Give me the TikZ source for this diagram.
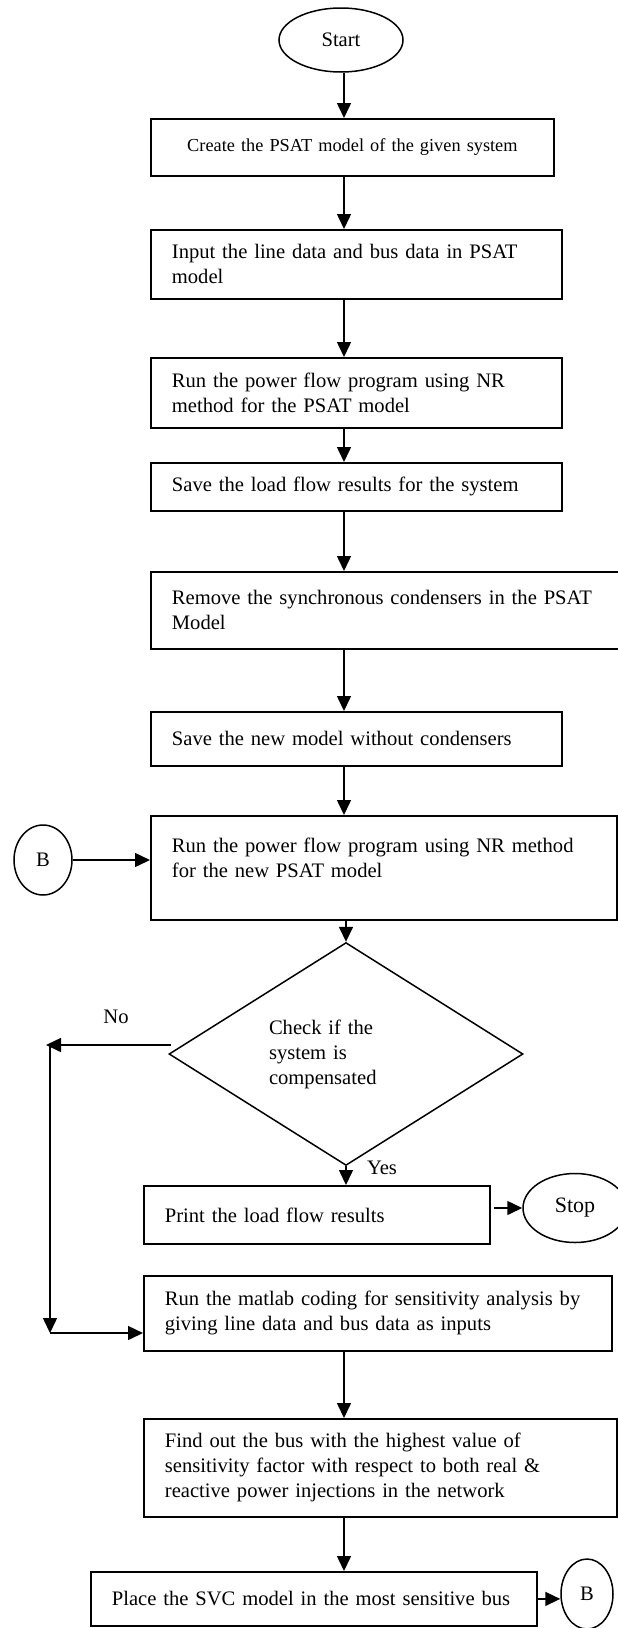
\documentclass[tikz,border=0pt]{standalone}
\usepackage{fontspec}
\setmainfont{Liberation Serif}
\usetikzlibrary{arrows.meta}
\usetikzlibrary{shapes.geometric}

\begin{document}
\begin{tikzpicture}[x=0.5pt, y=-0.5pt,
        font=\fontsize{10.3}{12.5}\selectfont,
        box/.style={draw, line width=0.9pt, anchor=north west, inner xsep=10.5pt, inner ysep=0pt, align=left},
        oval/.style={draw, ellipse, line width=0.75pt, inner sep=0pt},
        arr/.style={-{Triangle[width=7pt,length=7.5pt]}, line width=0.75pt}]

        \useasboundingbox (0,0) rectangle (617,1628);

        \coordinate (spine) at (344,0);
        \coordinate (loopA) at (50,1045);
        \coordinate (loopB) at (50,1333);

        % Main column
        \node[oval, minimum width=62pt, minimum height=32pt] (start) at (341,40) {Start};
        \node[box, align=center, text width=180.5pt, minimum height=28.5pt, font=\fontsize{9.15}{11}\selectfont] (create) at (150,118) {Create the PSAT model of the given system};
        \node[box, text width=184.5pt, minimum height=34.5pt] (input) at (150,229) {Input the line data and bus data in PSAT\\model};
        \node[box, text width=184.5pt, minimum height=35pt] (runnr) at (150,357) {Run the power flow program using NR\\method for the PSAT model};
        \node[box, text width=184.5pt, minimum height=24pt] (saveres) at (150,462) {Save the load flow results for the system};
        \node[box, text width=214pt, minimum height=38.5pt] (remove) at (150,571) {\mbox{Remove the synchronous condensers in the PSAT}\\Model};
        \node[box, text width=184.5pt, minimum height=27pt] (savenew) at (150,711) {Save the new model without condensers};
        \node[box, text width=212pt, minimum height=52pt] (runnew) at (150,815) {Run the power flow program using NR method\\for the new PSAT model\\[-2pt]\mbox{}};
        \node[oval, minimum width=29pt, minimum height=35pt] (bin) at (43,860) {B};

        % Decision
        \node[draw, diamond, line width=0.75pt, inner sep=0pt, minimum width=177pt, minimum height=89pt, text width=77pt, align=left] (check) at (346,1054) {Check if the\\system is\\compensated};
        \node (no) at (116,1017) {No};
        \node (yes) at (382,1168) {Yes};

        \node[box, text width=152pt, minimum height=29pt] (print) at (143,1185) {Print the load flow results};
        \node[oval, minimum width=52pt, minimum height=34.5pt, font=\fontsize{11}{13}\selectfont] (stop) at (575,1208) {Stop};
        \node[box, text width=213pt, minimum height=37.5pt] (sens) at (143,1275) {\mbox{Run the matlab coding for sensitivity analysis by}\\giving line data and bus data as inputs};
        \node[box, text width=215.5pt, minimum height=49pt] (find) at (143,1418) {Find out the bus with the highest value of\\\mbox{sensitivity factor with respect to both real \&}\\reactive power injections in the network};
        \node[box, text width=202pt, minimum height=27pt] (place) at (90,1571) {\mbox{Place the SVC model in the most sensitive bus}};
        \node[oval, minimum width=26pt, minimum height=35pt] (bout) at (587,1594) {B};

        % Arrows
        \draw[arr] (start.south -| spine) -- (create.north -| spine);
        \draw[arr] (create.south -| spine) -- (input.north -| spine);
        \draw[arr] (input.south -| spine) -- (runnr.north -| spine);
        \draw[arr] (runnr.south -| spine) -- (saveres.north -| spine);
        \draw[arr] (saveres.south -| spine) -- (remove.north -| spine);
        \draw[arr] (remove.south -| spine) -- (savenew.north -| spine);
        \draw[arr] (savenew.south -| spine) -- (runnew.north -| spine);
        \draw[arr] (bin.east) -- (bin.east -| runnew.west);
        \draw[arr] (runnew.south -| check.north) -- (check.north);
        \draw[arr] (check.south) -- (check.south |- print.north);
        \draw[arr] ([xshift=1.5pt]print.east |- stop.west) -- (stop.west);
        \draw[arr] ([xshift=1.5pt,yshift=4.5pt]check.west) -- ([xshift=-2pt]loopA);
        \draw[arr] (loopA) -- (loopB);
        \draw[arr] (loopB) -- (loopB -| sens.west);
        \draw[arr] (sens.south -| spine) -- (find.north -| spine);
        \draw[arr] (find.south -| spine) -- (place.north -| spine);
        \draw[arr] (place.east) -- (place.east -| bout.west);

    \end{tikzpicture}
\end{document}
